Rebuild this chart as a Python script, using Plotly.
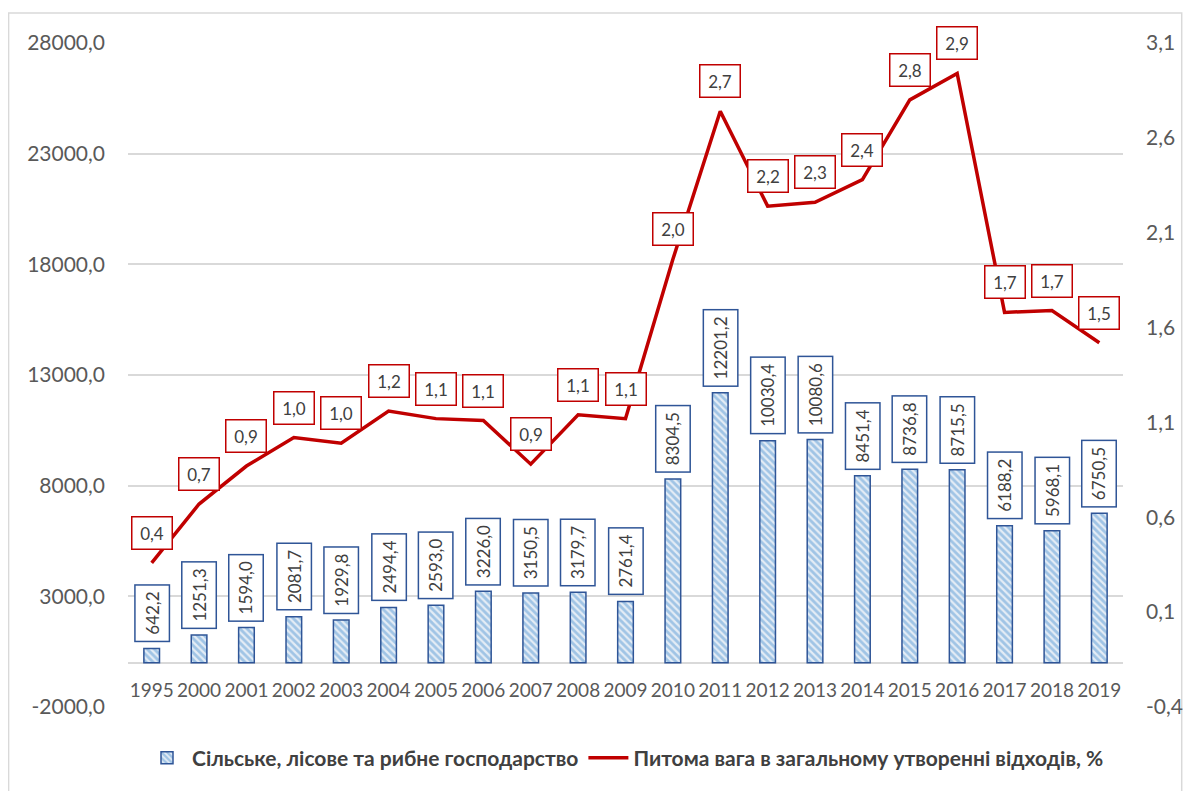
import plotly.graph_objects as go

COLORS = {
    "bar_line": "#2F5597",
    "bar_fg": "#5B9BD5",
    "bar_bg": "#E4ECF5",
    "red": "#C00000",
    "grid": "#D9D9D9",
    "text": "#404040",
    "tick": "#595959",
    "frame": "#D9D9D9",
}

years = ["1995", "2000", "2001", "2002", "2003", "2004", "2005", "2006", "2007", "2008",
         "2009", "2010", "2011", "2012", "2013", "2014", "2015", "2016", "2017", "2018", "2019"]
agri_waste = [642.2, 1251.3, 1594.0, 2081.7, 1929.8, 2494.4, 2593.0, 3226.0, 3150.5, 3179.7,
              2761.4, 8304.5, 12201.2, 10030.4, 10080.6, 8451.4, 8736.8, 8715.5, 6188.2, 5968.1, 6750.5]
share_pct = [0.36, 0.67, 0.87, 1.02, 0.99, 1.16, 1.12, 1.11, 0.88, 1.14,
             1.12, 1.96, 2.74, 2.24, 2.26, 2.38, 2.80, 2.94, 1.68, 1.69, 1.52]

left_ticks = [-2000, 3000, 8000, 13000, 18000, 23000, 28000]
right_ticks = [-0.4, 0.1, 0.6, 1.1, 1.6, 2.1, 2.6, 3.1]

bar_name = "Сільське, лісове та рибне господарство"
line_name = "Питома вага в загальному утворенні відходів, %"

FONT = "Lato"


def fmt(value):
    return f"{value:.1f}".replace(".", ",")


fig = go.Figure()
fig.add_trace(
    go.Bar(
        x=years,
        y=agri_waste,
        name=bar_name,
        width=0.33,
        marker={
            "color": COLORS["bar_bg"],
            "line": {"color": COLORS["bar_line"], "width": 1.5},
            "pattern": {
                "shape": "\\",
                "fgcolor": COLORS["bar_fg"],
                "bgcolor": COLORS["bar_bg"],
                "size": 5,
                "solidity": 0.55,
            },
        },
        hovertemplate="%{x}: %{y:.1f}<extra></extra>",
    )
)
fig.add_trace(
    go.Scatter(
        x=years,
        y=share_pct,
        name=line_name,
        yaxis="y2",
        mode="lines",
        line={"color": COLORS["red"], "width": 3.5},
        hovertemplate="%{x}: %{y:.2f}%<extra></extra>",
    )
)

# annotations on a category axis take the category index, not the label
annotations = []
for i, value in enumerate(agri_waste):
    annotations.append(
        {
            "x": i,
            "y": value,
            "xref": "x",
            "yref": "y",
            "text": fmt(value),
            "textangle": -90,
            "showarrow": False,
            "xanchor": "center",
            "yanchor": "bottom",
            "yshift": 6,
            "bgcolor": "white",
            "bordercolor": COLORS["bar_line"],
            "borderwidth": 1.5,
            "borderpad": 6,
            "font": {"family": FONT, "size": 17, "color": COLORS["text"]},
        }
    )
for i, value in enumerate(share_pct):
    annotations.append(
        {
            "x": i,
            "y": value,
            "xref": "x",
            "yref": "y2",
            "text": fmt(value),
            "showarrow": False,
            "xanchor": "center",
            "yanchor": "middle",
            "yshift": 30,
            "width": 29,
            "height": 21,
            "bgcolor": "white",
            "bordercolor": COLORS["red"],
            "borderwidth": 1.5,
            "borderpad": 5,
            "font": {"family": FONT, "size": 17, "color": COLORS["text"]},
        }
    )

# the page body adds an 8px offset, so margins are trimmed by that much
fig.update_layout(
    width=1187,
    height=783,
    margin={"l": 120, "r": 67, "t": 35, "b": 84},
    paper_bgcolor="white",
    plot_bgcolor="white",
    separators=", ",
    font={"family": FONT, "color": COLORS["tick"], "size": 18},
    annotations=annotations,
    legend={
        "orientation": "h",
        "x": 0.5,
        "xanchor": "center",
        "y": -0.077,
        "yanchor": "middle",
        "font": {"family": FONT, "size": 21, "color": COLORS["text"], "weight": "bold"},
        "itemwidth": 40,
    },
    shapes=[
        {
            "type": "rect",
            "xref": "paper",
            "yref": "paper",
            "x0": -0.12,
            "x1": 1.059,
            "y0": -0.2,
            "y1": 1.045,
            "line": {"color": COLORS["frame"], "width": 1.5},
            "layer": "below",
        }
    ],
    xaxis={
        "type": "category",
        "range": [-0.5, len(years) - 0.5],
        "anchor": "free",
        "position": 2000 / 30000,
        "showgrid": False,
        "showline": False,
        "zeroline": False,
        "ticks": "",
        "ticklabelstandoff": 14,
        "tickfont": {"size": 19, "color": COLORS["tick"]},
    },
    yaxis={
        "range": [-2000, 28000],
        "tickvals": left_ticks,
        "ticktext": [fmt(v) for v in left_ticks],
        "gridcolor": COLORS["grid"],
        "gridwidth": 1.5,
        "zeroline": True,
        "zerolinecolor": COLORS["grid"],
        "zerolinewidth": 1.5,
        "showline": False,
        "ticklabelstandoff": 22,
        "tickfont": {"size": 21, "color": COLORS["tick"]},
    },
    yaxis2={
        "range": [-0.4, 3.1],
        "tickvals": right_ticks,
        "ticktext": [fmt(v) for v in right_ticks],
        "overlaying": "y",
        "side": "right",
        "showgrid": False,
        "zeroline": False,
        "showline": False,
        "ticklabelstandoff": 22,
        "tickfont": {"size": 21, "color": COLORS["tick"]},
    },
)

fig.write_html("out.html")
